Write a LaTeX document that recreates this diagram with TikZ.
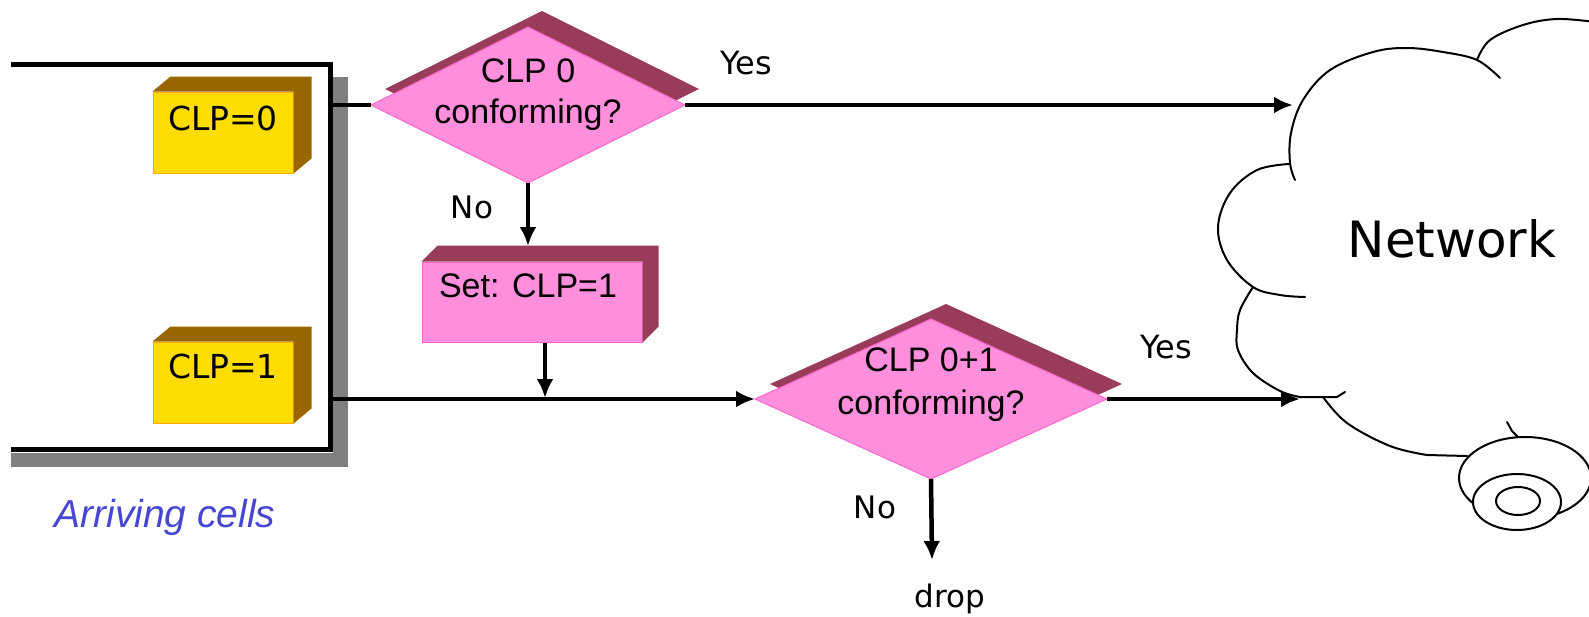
\documentclass[tikz,border=0pt]{standalone}
\usepackage{fontspec}
\setmainfont{Liberation Sans}
\newfontfamily\comic{DejaVu Sans}
\usetikzlibrary{arrows.meta,shapes.geometric,calc}
\definecolor{yel}{HTML}{FFDD00}
\definecolor{yeledge}{HTML}{FFA800}
\definecolor{brn}{HTML}{996600}
\definecolor{pnk}{HTML}{FF8FDC}
\definecolor{pnkedge}{HTML}{FF66CC}
\definecolor{mar}{HTML}{993C5A}
\definecolor{shd}{HTML}{808080}
\definecolor{blu}{HTML}{4646D2}
\begin{document}
\begin{tikzpicture}[x=1pt,y=-1pt,
  conn/.style={line width=4.5pt},
  arr/.style={conn,-{Latex[length=19pt,width=17pt]}},
  ybox/.style={rectangle,fill=yel,draw=yeledge,line width=1pt,minimum width=140pt,minimum height=81pt,inner sep=0pt},
  pbox/.style={rectangle,fill=pnk,draw=pnkedge,line width=1pt,minimum width=220pt,minimum height=80pt,inner sep=0pt},
  dia/.style={diamond,fill=pnk,draw=pnkedge,line width=1pt,inner sep=0pt,outer sep=0pt},
  diashadow/.style={diamond,fill=mar,inner sep=0pt,outer sep=0pt},
  ctext/.style={font=\comic\fontsize{32}{38}\selectfont,inner sep=0pt,anchor=base},
  atext/.style={font=\fontsize{34}{41}\selectfont,inner sep=0pt,align=center},
  cloud/.style={line width=2pt,line cap=round,line join=round}
]
\useasboundingbox (0,0) rectangle (1589,616);

% ---- outer frame with shadow
\fill[shd] (333,77) rectangle (348,467);
\fill[shd] (11,453) rectangle (348,467);
\draw[line width=5pt] (11,64) -- (330,64) -- (330,449) -- (11,449);
\coordinate (o1) at (330,105);
\coordinate (o2) at (330,399);

% ---- yellow cell boxes
\node[ybox] (cl0) at (223,132.5) {};
\fill[brn] (cl0.north west) -- ++(18,-15) -- ($(cl0.north east)+(18,-15)$) -- ($(cl0.south east)+(18,-15)$) -- (cl0.south east) -- (cl0.north east) -- cycle;
\node[ctext,font=\comic\fontsize{33}{38}\selectfont] (cl0t) at (223,130) {CLP=0};

\node[ybox] (cl1) at (223,382.5) {};
\fill[brn] (cl1.north west) -- ++(18,-15) -- ($(cl1.north east)+(18,-15)$) -- ($(cl1.south east)+(18,-15)$) -- (cl1.south east) -- (cl1.north east) -- cycle;
\node[ctext,font=\comic\fontsize{33}{38}\selectfont] (cl1t) at (223,378) {CLP=1};

\node[text=blu,font=\fontsize{39}{46}\selectfont\itshape,inner sep=0pt,anchor=base] (arr) at (165,527) {Arriving cells};

% ---- first decision
\node[diashadow,minimum width=314pt,minimum height=156pt] (d1s) at (542,89) {};
\node[dia,minimum width=314pt,minimum height=156pt] (d1) at (528,105) {};
\node[atext] (d1t) at (528,95) {CLP 0\\conforming?};

% ---- set box
\node[pbox] (setb) at (532,302) {};
\fill[mar] (setb.north west) -- ++(16,-16) -- ($(setb.north east)+(16,-16)$) -- ($(setb.south east)+(16,-16)$) -- (setb.south east) -- (setb.north east) -- cycle;
\node[atext,anchor=base] (sett) at (528,297) {Set: CLP=1};
\coordinate (settop) at (532,246);

% ---- second decision
\node[diashadow,minimum width=352pt,minimum height=160pt] (d2s) at (946,384) {};
\node[dia,minimum width=352pt,minimum height=160pt] (d2) at (931,399) {};
\node[atext,font=\fontsize{34}{43}\selectfont] (d2t) at (931,385) {CLP 0+1\\conforming?};

% ---- cloud
\node[font=\comic\fontsize{50}{60}\selectfont,inner sep=0pt,anchor=base] (net) at (1452,257) {Network};
\draw[cloud] plot[smooth,tension=0.6] coordinates {(1500,78) (1477,60) (1443,52) (1407,48) (1373,52) (1330,70) (1303,100) (1291,133) (1290,163) (1295,180)};
\draw[cloud] plot[smooth,tension=0.6] coordinates {(1477,60) (1490,40) (1523,25) (1557,19) (1595,22)};
\draw[cloud] plot[smooth,tension=0.6] coordinates {(1289,164) (1257,170) (1230,193) (1218,227) (1227,260) (1253,287) (1280,295) (1305,297)};
\draw[cloud] plot[smooth,tension=0.6] coordinates {(1253,287) (1240,310) (1237,330) (1238,350) (1253,373) (1280,391) (1300,397)} -- (1337,397) -- (1345,392);
\draw[cloud] plot[smooth,tension=0.6] coordinates {(1323,397) (1347,423) (1390,446) (1427,455)} -- (1467,456);
\draw[cloud] (1507,422) -- (1512,431) -- (1518,437);
\draw[cloud] (1525,478) ellipse [x radius=66, y radius=41];
\draw[cloud,fill=white] (1517,502) ellipse [x radius=44, y radius=28];
\draw[cloud] (1518,501) ellipse [x radius=22, y radius=14];
\coordinate (c1) at (1293,105);
\coordinate (c2) at (1300,399);

% ---- connectors
\draw[conn] (o1) -- (d1.west);
\draw[arr] (d1.east) -- (c1);
\draw[arr] (d1.south) -- (d1.south |- settop);
\coordinate (j) at (545,399);
\draw[arr,shorten >=1pt] (setb.south -| j) -- (j);
\draw[arr] (o2) -- (d2.west);
\draw[arr] (d2.east) -- (c2);
\coordinate (dropend) at (932,560);
\draw[arr] (d2.south) -- (dropend);

% ---- labels
\node[ctext] (yes1) at (746,74) {Yes};
\node[ctext] (yes2) at (1166,358) {Yes};
\node[ctext,font=\comic\fontsize{31}{37}\selectfont] (no1) at (472,218) {No};
\node[ctext,font=\comic\fontsize{31}{37}\selectfont] (no2) at (875,518) {No};
\node[ctext,font=\comic\fontsize{31}{37}\selectfont] (drop) at (950,607) {drop};
\end{tikzpicture}
\end{document}
